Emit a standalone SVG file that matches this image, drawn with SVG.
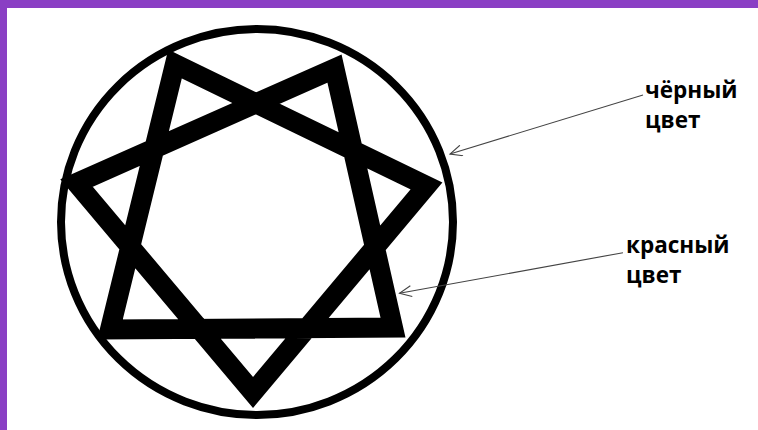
<svg xmlns="http://www.w3.org/2000/svg" width="758" height="430" viewBox="0 0 758 430">
<style>
.lbl{font-family:"Open Sans","Noto Sans",sans-serif;font-weight:bold;font-size:22.5px;fill:#000}
.ptr{stroke:#444;stroke-width:1.1;fill:none}
</style>
<defs>
<marker id="ah" viewBox="0 0 14 12" refX="13" refY="6" markerWidth="14" markerHeight="12" markerUnits="userSpaceOnUse" orient="auto">
<path d="M1,0.5 L13,6 L1,11.5" fill="none" stroke="#444" stroke-width="1.1"/>
</marker>
</defs>
<rect x="0" y="0" width="758" height="430" fill="#fff"/>
<rect x="0" y="0" width="758" height="8" fill="#8a3fc4"/>
<rect x="0" y="0" width="7" height="430" fill="#8a3fc4"/>
<g id="circle">
<ellipse cx="257" cy="222" rx="196" ry="193" fill="none" stroke="#000" stroke-width="8"/>
</g>
<g id="star">
<polygon points="175,64 426.5,186 253,392.5 76.5,183 334.5,68.5 393,327.5 110,329.5" fill="none" stroke="#000" stroke-width="20" stroke-linejoin="miter" stroke-miterlimit="4"/>
</g>
<g id="connectors">
<path class="ptr" d="M643,95 L450,154" marker-end="url(#ah)"/>
<path class="ptr" d="M623,252.7 L399.5,293.3" marker-end="url(#ah)"/>
</g>
<g id="label-black">
<text class="lbl" x="645" y="98">чёрный</text>
<text class="lbl" x="645" y="128">цвет</text>
</g>
<g id="label-red">
<text class="lbl" x="626" y="253">красный</text>
<text class="lbl" x="626" y="283">цвет</text>
</g>
</svg>
